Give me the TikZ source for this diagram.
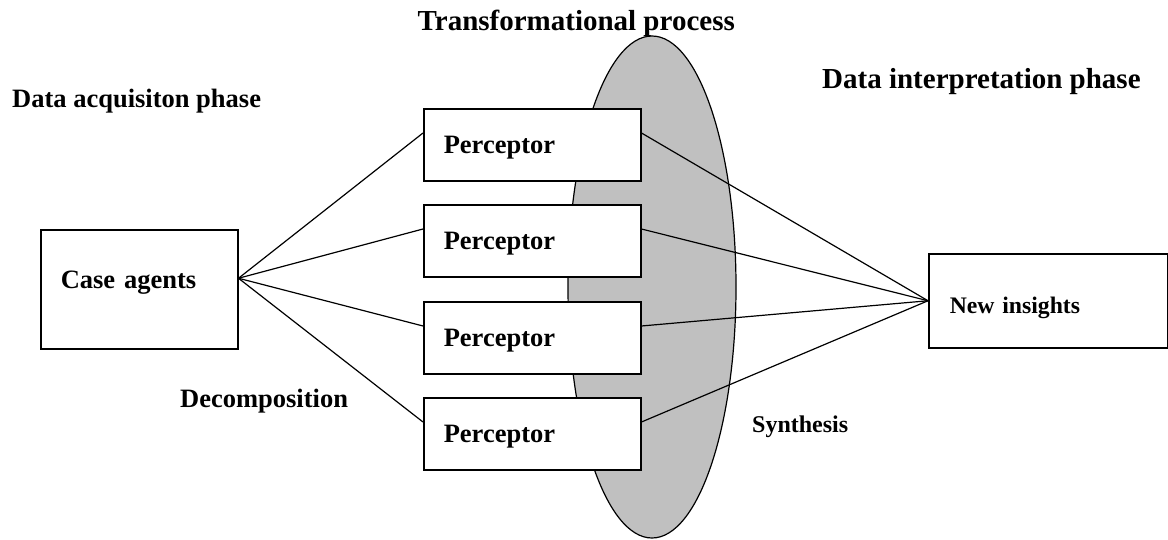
\documentclass[tikz,border=0pt]{standalone}
\usepackage{fontspec}
\setmainfont{Liberation Serif}
\usetikzlibrary{shapes.geometric,calc}
\definecolor{lensgray}{RGB}{192,192,192}
\begin{document}
\begin{tikzpicture}[x=1pt,y=-1pt,
  every node/.style={font=\fontsize{26.5}{30}\selectfont\bfseries},
  boxnode/.style={draw,line width=1.5pt,fill=white,rectangle,inner ysep=0pt,
    inner xsep=20pt,align=left,anchor=north west},
  perc/.style={boxnode,minimum width=217pt,minimum height=72pt,
    text width=177pt,text height=18pt,text depth=0pt},
  caption/.style={anchor=base west,inner sep=0pt},
  bigcaption/.style={caption,font=\fontsize{29}{33}\selectfont\bfseries},
  link/.style={line width=1.2pt}]
\useasboundingbox (0,0) rectangle (1168,539);

% transformational lens behind the perceptors
\node[ellipse,draw,line width=1.2pt,fill=lensgray,minimum width=168pt,
  minimum height=502pt,inner sep=0pt] (lens) at (652,287) {};

% boxes
\node[boxnode,minimum width=197pt,minimum height=119pt,text width=157pt,
  text height=18pt,text depth=19pt] (case) at (40,229) {Case agents};
\node[perc] (p1) at (423,108) {Perceptor};
\node[perc] (p2) at (423,204) {Perceptor};
\node[perc] (p3) at (423,301) {Perceptor};
\node[perc] (p4) at (423,397) {Perceptor};
\node[boxnode,minimum width=238pt,minimum height=94pt,text width=197pt,
  inner xsep=21pt,text height=26pt,text depth=0pt,
  font=\fontsize{23.7}{28}\selectfont\bfseries] (ni) at (928,253) {New insights};

% hubs where the links meet
\coordinate (hubL) at ([yshift=11pt]case.east);
\coordinate (hubR) at (ni.west);

% decomposition and synthesis links
\foreach \p in {p1,p2,p3,p4}{
  \draw[link] (hubL) -- ($(\p.north west)!0.34!(\p.south west)$);
  \draw[link] ($(\p.north east)!0.34!(\p.south east)$) -- (hubR);
}

% captions
\node[bigcaption,anchor=base east] (ttp) at (735,30) {Transformational process};
\node[caption] (tacq) at (12,107) {Data acquisiton phase};
\node[bigcaption] (tint) at (822,88) {Data interpretation phase};
\node[caption] (tdec) at (180,407) {Decomposition};
\node[caption,font=\fontsize{24}{28}\selectfont\bfseries] (tsyn) at (752,432) {Synthesis};
\end{tikzpicture}
\end{document}
